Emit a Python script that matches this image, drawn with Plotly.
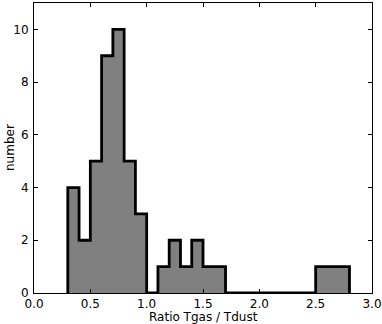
import plotly.graph_objects as go

bin_edges = [round(0.3 + 0.1 * i, 2) for i in range(26)]
counts = [4, 2, 5, 9, 10, 5, 3, 0, 1, 2, 1, 2, 1, 1, 0, 0, 0, 0, 0, 0, 0, 0, 1, 1, 1]
x_ticks = [0.0, 0.5, 1.0, 1.5, 2.0, 2.5, 3.0]
y_ticks = [0, 2, 4, 6, 8, 10]

xs = [bin_edges[0]] + bin_edges
ys = [0] + counts + [0]

fig = go.Figure()
fig.add_trace(go.Scatter(
    x=xs, y=ys, mode="lines", line=dict(shape="hv", color="black", width=2.8),
    fill="tozeroy", fillcolor="#808080", hoverinfo="skip", showlegend=False,
))

font = dict(family="DejaVu Sans", size=12, color="black")
axis_common = dict(
    showline=True, linecolor="black", linewidth=1, mirror="allticks",
    ticks="inside", ticklen=4, tickcolor="black", showgrid=False, zeroline=False,
    tickfont=font, automargin=False,
)
fig.update_xaxes(range=[0, 3], tickvals=x_ticks, ticktext=[f"{v:.1f}" for v in x_ticks],
                 ticklabelstandoff=0, **axis_common)
fig.update_yaxes(range=[0, 11], tickvals=y_ticks, ticklabelstandoff=2, **axis_common)
fig.update_layout(
    width=382, height=324, margin=dict(l=34, r=10, t=3, b=31),
    plot_bgcolor="white", paper_bgcolor="white",
    annotations=[
        dict(text="Ratio Tgas / Tdust", x=0.5, y=0, xref="paper", yref="paper",
             yshift=-14.5, yanchor="top", xanchor="center", showarrow=False, font=font),
        dict(text="number", x=0, y=0.5, xref="paper", yref="paper", xshift=-24,
             xanchor="center", yanchor="middle", textangle=-90, showarrow=False, font=font),
    ],
)
fig.write_html("out.html", config={"displayModeBar": False},
               post_script="document.body.style.margin='0';document.body.style.overflow='hidden';")
